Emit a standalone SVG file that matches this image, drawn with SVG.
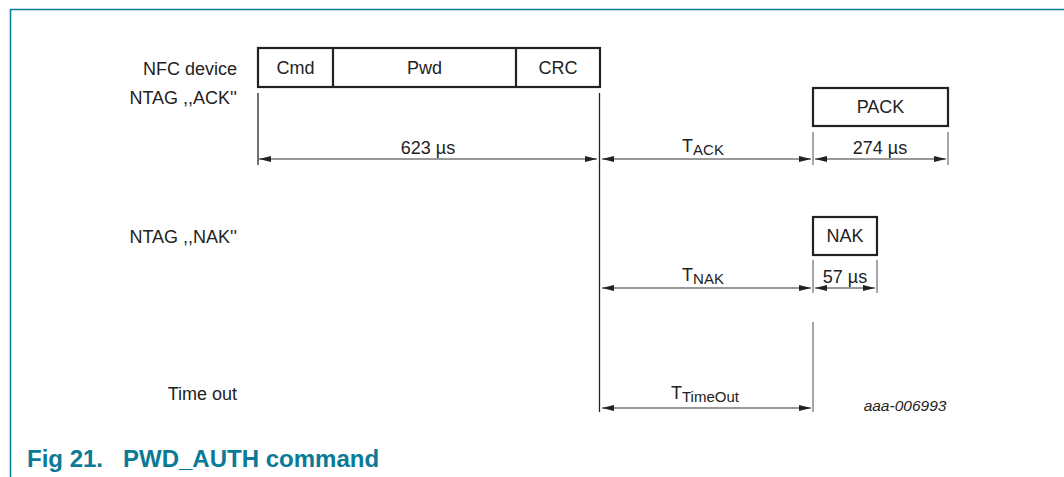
<svg xmlns="http://www.w3.org/2000/svg" width="1064" height="477" viewBox="0 0 1064 477">
<defs>
<marker id="ah" viewBox="0 0 12 6" refX="12" refY="3" markerWidth="12" markerHeight="6" markerUnits="userSpaceOnUse" orient="auto-start-reverse">
<path d="M0,0 L12,3 L0,6 z" fill="#222"/>
</marker>
<style>
.lbl{font-family:"Liberation Sans",Arial,sans-serif;font-size:18px;fill:#222}
.r{text-anchor:end}
.m{text-anchor:middle}
.box{fill:#fff;stroke:#222;stroke-width:2.2}
.ln{stroke:#222;stroke-width:1.3;fill:none}
.tk{stroke:#777;stroke-width:1.3;fill:none}
.dim{stroke:#777;stroke-width:1.3;fill:none;marker-start:url(#ah);marker-end:url(#ah)}
.sub{font-size:15px}
</style>
</defs>
<rect width="1064" height="477" fill="#fff"/>
<g id="frame" fill="none" stroke="#0a7a96" stroke-width="1.5">
<path d="M10.5,477 V9.5 H1064"/>
</g>
<g id="labels">
<text class="lbl r" x="237" y="75">NFC device</text>
<text class="lbl r" x="237" y="104">NTAG ,,ACK''</text>
<text class="lbl r" x="237" y="243">NTAG ,,NAK''</text>
<text class="lbl r" x="237" y="400">Time out</text>
</g>
<g id="nfc">
<rect class="box" x="258" y="48" width="342" height="39"/>
<line class="box" x1="333" y1="48" x2="333" y2="87"/>
<line class="box" x1="516" y1="48" x2="516" y2="87"/>
<text class="lbl m" x="295.5" y="74">Cmd</text>
<text class="lbl m" x="424.5" y="74">Pwd</text>
<text class="lbl m" x="558" y="74">CRC</text>
</g>
<g id="pack">
<rect class="box" x="813" y="88" width="135" height="38"/>
<text class="lbl m" x="880.5" y="113">PACK</text>
</g>
<g id="nak">
<rect class="box" x="813" y="217" width="64" height="38"/>
<text class="lbl m" x="845" y="242">NAK</text>
</g>
<g id="connectors">
<line class="ln" x1="258" y1="93" x2="258" y2="165"/>
<line class="ln" x1="599.5" y1="93" x2="599.5" y2="412"/>
<line class="tk" x1="813" y1="132" x2="813" y2="165"/>
<line class="tk" x1="948" y1="132" x2="948" y2="165"/>
<line class="tk" x1="813" y1="260" x2="813" y2="293"/>
<line class="tk" x1="877" y1="260" x2="877" y2="293"/>
<line class="tk" x1="813" y1="322" x2="813" y2="412"/>
<line class="dim" x1="259" y1="159" x2="597" y2="159"/>
<line class="dim" x1="602" y1="159" x2="811" y2="159"/>
<line class="dim" x1="815" y1="159" x2="946" y2="159"/>
<line class="dim" x1="602" y1="288" x2="811" y2="288"/>
<line class="dim" x1="815" y1="288" x2="875" y2="288"/>
<line class="dim" x1="602" y1="408" x2="811" y2="408"/>
</g>
<g id="dimlabels">
<text class="lbl m" x="428" y="154">623 µs</text>
<text class="lbl m" x="703" y="152">T<tspan class="sub" dy="3">ACK</tspan></text>
<text class="lbl m" x="880" y="154">274 µs</text>
<text class="lbl m" x="703" y="281">T<tspan class="sub" dy="3">NAK</tspan></text>
<text class="lbl m" x="845" y="283">57 µs</text>
<text class="lbl m" x="705" y="399">T<tspan class="sub" dy="3">TimeOut</tspan></text>
<text class="lbl m" x="905" y="411" style="font-size:15.5px;font-style:italic">aaa-006993</text>
</g>
<g id="caption">
<text x="27" y="467" style="font-family:'Liberation Sans',Arial,sans-serif;font-size:24px;font-weight:bold;fill:#0a7a96" xml:space="preserve">Fig 21.   PWD_AUTH command</text>
</g>
</svg>
